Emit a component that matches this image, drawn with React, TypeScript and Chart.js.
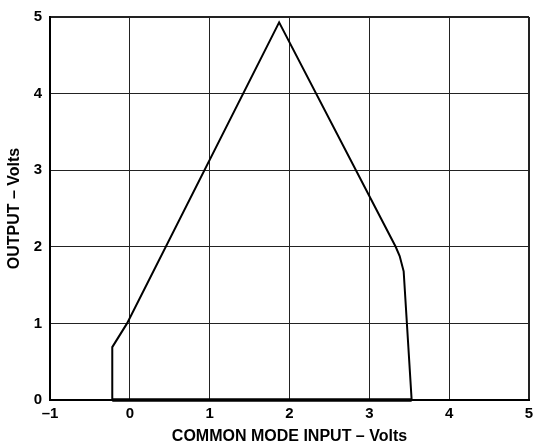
import React, { useEffect, useRef } from "react";
import { Chart, registerables } from "chart.js";

Chart.register(...registerables);

const xValues = [-0.22, -0.22, -0.035, 1.87, 3.33, 3.38, 3.43, 3.53, -0.22];
const yValues = [0, 0.69, 1.0, 4.93, 2.0, 1.88, 1.68, 0, 0];
const xTickLabels = ["–1", "0", "1", "2", "3", "4", "5"];
const yTickLabels = ["0", "1", "2", "3", "4", "5"];
const xTitle = "COMMON MODE INPUT – Volts";
const yTitle = "OUTPUT – Volts";

export default function App() {
  const ref = useRef<HTMLCanvasElement | null>(null);
  useEffect(() => {
    if (!ref.current) return;
    const font = "'Liberation Sans', Arial, sans-serif";
    const chart = new Chart(ref.current, {
      type: "scatter",
      data: {
        datasets: [
          {
            data: xValues.map((x, i) => ({ x, y: yValues[i] })),
            showLine: true,
            borderColor: "#000",
            borderWidth: 2,
            pointRadius: 0,
            tension: 0,
            clip: false,
            segment: {
              borderWidth: (c: any) =>
                c.p0.parsed.y === 0 && c.p1.parsed.y === 0 ? 3.5 : undefined,
            },
          },
        ],
      },
      options: {
        animation: false,
        responsive: false,
        events: [],
        layout: { padding: { left: 0, top: 17, right: 6, bottom: 0 } },
        plugins: { legend: { display: false }, tooltip: { enabled: false } },
        scales: {
          x: {
            type: "linear",
            min: -1,
            max: 5,
            afterFit: (s: any) => {
              s.height = 47;
              s.paddingLeft = 0;
              s.paddingRight = 0;
            },
            ticks: {
              stepSize: 1,
              padding: 5,
              color: "#000",
              font: { family: font, size: 15, weight: "bold" },
              callback: (_v: any, i: number) => xTickLabels[i],
              maxRotation: 0,
            },
            grid: {
              drawTicks: false,
              color: "#222",
              lineWidth: (c: any) => (c.tick && c.tick.value === 5 ? 2 : 1),
            },
            border: { display: true, color: "#000", width: 2 },
            title: {
              display: true,
              text: xTitle,
              color: "#000",
              font: { family: font, size: 16, weight: "bold" },
              padding: { top: 0, bottom: 1 },
            },
          },
          y: {
            type: "linear",
            min: 0,
            max: 5,
            afterFit: (s: any) => {
              s.width = 50;
              s.paddingTop = 0;
              s.paddingBottom = 0;
            },
            ticks: {
              stepSize: 1,
              padding: 8,
              color: "#000",
              font: { family: font, size: 15, weight: "bold" },
              callback: (_v: any, i: number) => yTickLabels[i],
            },
            grid: {
              drawTicks: false,
              color: "#222",
              lineWidth: (c: any) => (c.tick && c.tick.value === 5 ? 2 : 1),
            },
            border: { display: true, color: "#000", width: 2 },
            title: {
              display: true,
              text: yTitle,
              color: "#000",
              font: { family: font, size: 16, weight: "bold" },
              padding: { top: 5, bottom: 0 },
            },
          },
        },
      },
    });
    return () => chart.destroy();
  }, []);
  return (
    <div style={{ position: "fixed", left: 0, top: 0, width: 535, height: 447, background: "#fff" }}>
      <canvas ref={ref} width={535} height={447} />
    </div>
  );
}
